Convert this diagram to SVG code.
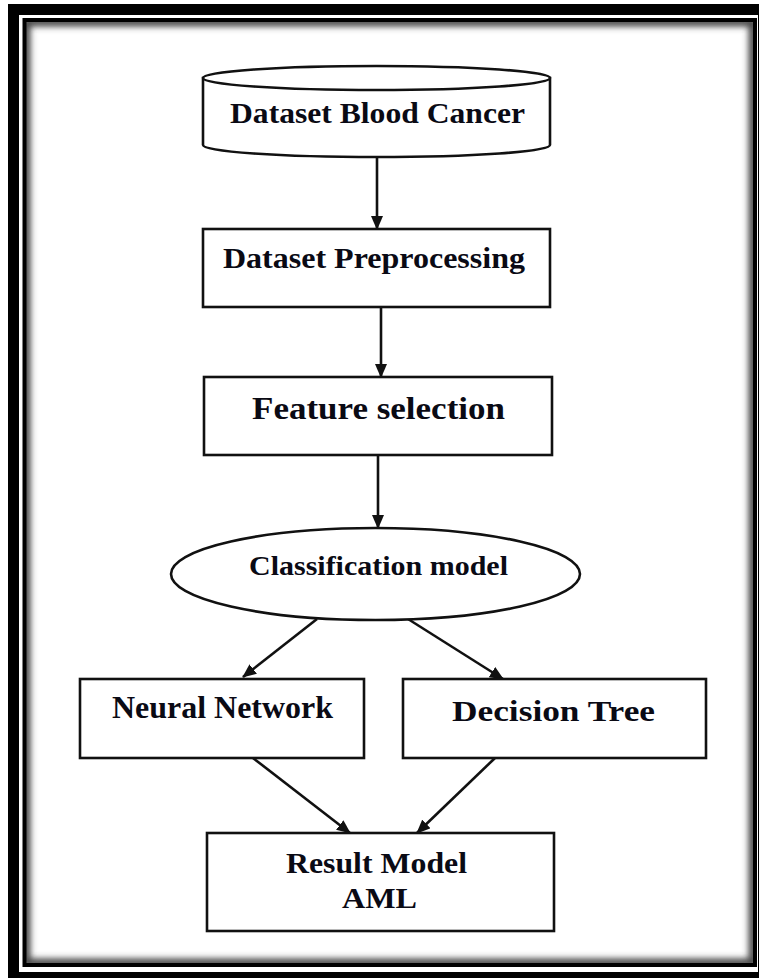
<svg xmlns="http://www.w3.org/2000/svg" width="759" height="978" viewBox="0 0 759 978">
<style>
.box{fill:#fff;stroke:#111;stroke-width:2.6}
.lbl{font-family:"Liberation Serif","Times New Roman",serif;font-weight:bold;fill:#0a0a14;text-anchor:start}
.conn{stroke:#111;stroke-width:2.6;fill:none;marker-end:url(#ah)}
</style>
<defs>
<marker id="ah" markerUnits="userSpaceOnUse" markerWidth="14" markerHeight="12" refX="13" refY="6" orient="auto">
<path d="M0,0 L14,6 L0,12 z" fill="#111"/>
</marker>
<clipPath id="inner"><rect x="26" y="22" width="727" height="941"/></clipPath>
<filter id="blur" x="-5%" y="-5%" width="110%" height="110%"><feGaussianBlur stdDeviation="3"/></filter>
</defs>
<rect x="0" y="0" width="759" height="978" fill="#fff"/>
<g id="frame">
<rect x="13.5" y="9.5" width="750" height="968" fill="none" stroke="#000" stroke-width="11"/>
<g clip-path="url(#inner)"><rect x="26" y="22" width="727" height="941" fill="none" stroke="#444" stroke-width="9" filter="url(#blur)"/></g>
<rect x="24.5" y="20" width="730.5" height="945" fill="none" stroke="#000" stroke-width="4"/>
</g>
<g id="connectors">
<line class="conn" x1="377" y1="157" x2="377" y2="229"/>
<line class="conn" x1="381" y1="307" x2="381" y2="377"/>
<line class="conn" x1="378" y1="455" x2="378" y2="528"/>
<line class="conn" x1="317" y1="619" x2="243" y2="677"/>
<line class="conn" x1="408" y1="619" x2="503" y2="679"/>
<line class="conn" x1="253" y1="758" x2="350" y2="833"/>
<line class="conn" x1="495" y1="758" x2="417" y2="833"/>
</g>
<g id="dataset">
<path class="box" d="M203,78 L203,145 A173.5,12 0 0 0 550,145 L550,78 Z"/>
<ellipse class="box" cx="376.5" cy="78" rx="173.5" ry="12"/>
<text class="lbl" x="230" y="123" font-size="30" textLength="295" lengthAdjust="spacingAndGlyphs">Dataset Blood Cancer</text>
</g>
<g id="preprocessing">
<rect class="box" x="203" y="229" width="347" height="78"/>
<text class="lbl" x="223" y="268" font-size="30" textLength="302" lengthAdjust="spacingAndGlyphs">Dataset Preprocessing</text>
</g>
<g id="feature">
<rect class="box" x="204" y="377" width="348" height="78"/>
<text class="lbl" x="252" y="419" font-size="31" textLength="253" lengthAdjust="spacingAndGlyphs">Feature selection</text>
</g>
<g id="classification">
<ellipse class="box" cx="375.5" cy="574" rx="204.5" ry="46"/>
<text class="lbl" x="249" y="575" font-size="27" textLength="259" lengthAdjust="spacingAndGlyphs">Classification model</text>
</g>
<g id="neural">
<rect class="box" x="80" y="679" width="284" height="79"/>
<text class="lbl" x="112" y="718" font-size="31" textLength="221" lengthAdjust="spacingAndGlyphs">Neural Network</text>
</g>
<g id="decision">
<rect class="box" x="403" y="679" width="303" height="79"/>
<text class="lbl" x="452" y="721" font-size="30" textLength="203" lengthAdjust="spacingAndGlyphs">Decision Tree</text>
</g>
<g id="result">
<rect class="box" x="207" y="833" width="347" height="98"/>
<text class="lbl" x="286" y="873" font-size="29" textLength="181" lengthAdjust="spacingAndGlyphs">Result Model</text>
<text class="lbl" x="342" y="908" font-size="29" textLength="75" lengthAdjust="spacingAndGlyphs">AML</text>
</g>
</svg>
